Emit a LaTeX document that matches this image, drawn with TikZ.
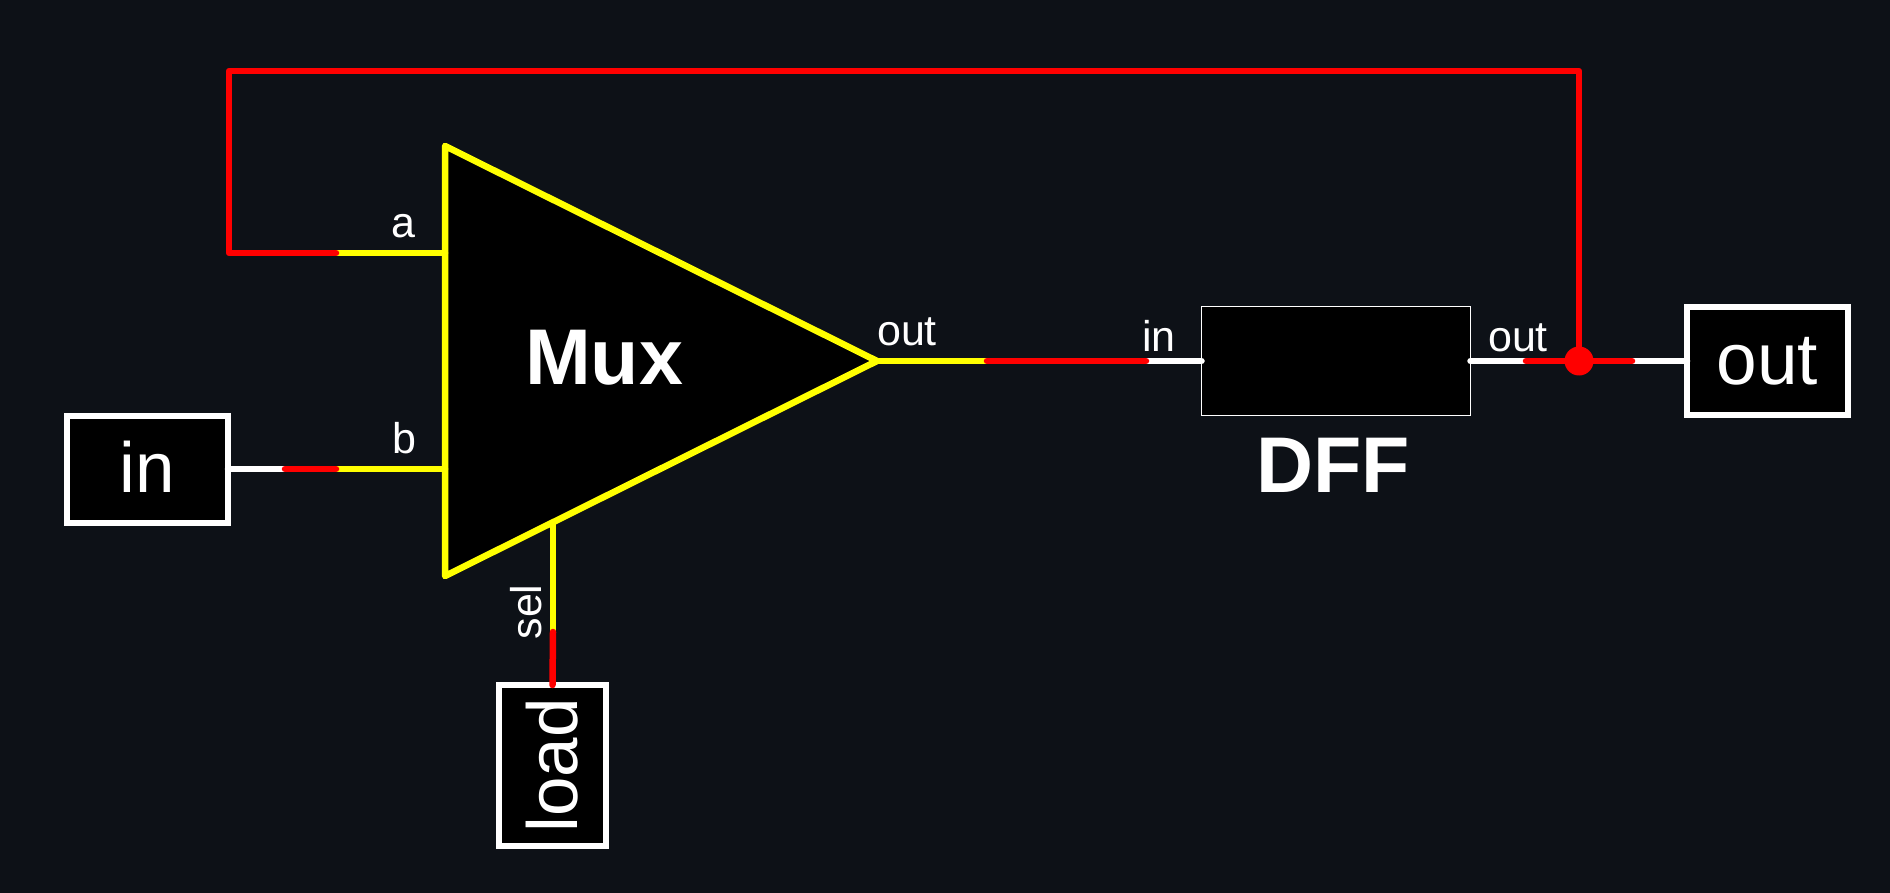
\documentclass[tikz,border=0pt]{standalone}
\usepackage{fontspec}
\setmainfont{Liberation Sans}
\definecolor{bgdark}{HTML}{0D1117}
\definecolor{wred}{HTML}{FF0000}
\definecolor{wyellow}{HTML}{FFFF00}
\newcommand{\fsz}[1]{\fontsize{#1pt}{#1pt}\selectfont}
\tikzset{
  x=1pt,y=-1pt,
  wire/.style={line width=6.5pt,line cap=round,line join=round},
  whitewire/.style={wire,draw=white},
  yellowwire/.style={wire,draw=wyellow},
  redwire/.style={wire,draw=wred},
  iobox/.style={draw=white,fill=black,line width=6pt,outer sep=0pt,inner sep=0pt,
     text=white,font=\fsz{71},minimum width=161pt,minimum height=107pt},
  dffbox/.style={draw=white,fill=black,line width=1pt,outer sep=0pt,inner sep=0pt,
     minimum width=269pt,minimum height=108pt},
  pinlabel/.style={text=white,font=\fsz{43},inner sep=0pt,anchor=base},
  title/.style={text=white,font=\bfseries\fsz{79},inner sep=0pt,anchor=base},
  jdot/.style={circle,fill=wred,inner sep=0pt,minimum size=29pt}
}
\begin{document}
\begin{tikzpicture}
\useasboundingbox[fill=bgdark] (0,0) rectangle (1890,893);
% Mux body
\coordinate (muxtop) at (445,146);
\coordinate (muxbot) at (445,576);
\coordinate (muxtip) at (877,361);
\filldraw[fill=black,draw=wyellow,line width=6.5pt,line join=round] (muxtop) -- (muxtip) -- (muxbot) -- cycle;
\node[title] (muxlabel) at (604,384) {Mux};
% Boxes
\node[iobox,text height=46pt,text depth=0pt] (inbox) at (147.5,469) {in};
\node[iobox,font=\fsz{73},text height=46pt,text depth=0pt] (outbox) at (1767.5,361) {out};
\node[iobox,rotate=90,text height=50pt,text depth=0pt] (loadbox) at (552.5,765.5) {load};
\node[dffbox] (dff) at (1336,361) {};
\node[title] (dfflabel) at (1333,492) {DFF};
% Wire junction points
\coordinate (muxa) at (445,253);
\coordinate (muxb) at (445,469);
\coordinate (muxsel) at (553,523);
\coordinate (sela) at (336,253);
\coordinate (corna) at (229,253);
\coordinate (corntl) at (229,71);
\coordinate (corntr) at (1579,71);
\coordinate (splitb1) at (285,469);
\coordinate (splitb2) at (336,469);
\coordinate (splitsel) at (553,632);
\coordinate (splito1) at (987,361);
\coordinate (splito2) at (1146,361);
\coordinate (splitq1) at (1526,361);
\coordinate (splitq2) at (1632,361);
\node[jdot] (junction) at (1579,361) {};
% Yellow and white segments
\draw[yellowwire] (muxa) -- (sela);
\draw[whitewire] (inbox.east) -- (splitb1);
\draw[yellowwire] (muxb) -- (splitb2);
\draw[yellowwire] (muxsel) -- (splitsel);
\draw[yellowwire] (muxtip) -- (splito1);
\draw[whitewire] (splito2) -- (dff.west);
\draw[whitewire] (dff.east) -- (splitq1);
\draw[whitewire] (splitq2) -- (outbox.west);
% Red segments
\draw[redwire] (sela) -- (corna) -- (corntl) -- (corntr) -- (junction.center);
\draw[redwire] (splitb1) -- (splitb2);
\draw[redwire] (splitsel) -- (loadbox.east);
\draw[redwire] (splito1) -- (splito2);
\draw[redwire] (splitq1) -- (splitq2);
% Pin labels
\node[pinlabel] (pina) at (403,238) {a};
\node[pinlabel] (pinb) at (404,453) {b};
\node[pinlabel,rotate=90] (pinsel) at (541,612) {sel};
\node[pinlabel] (pinout) at (907,345) {out};
\node[pinlabel] (pinin) at (1159,351) {in};
\node[pinlabel] (pinq) at (1518,351) {out};
\end{tikzpicture}
\end{document}
